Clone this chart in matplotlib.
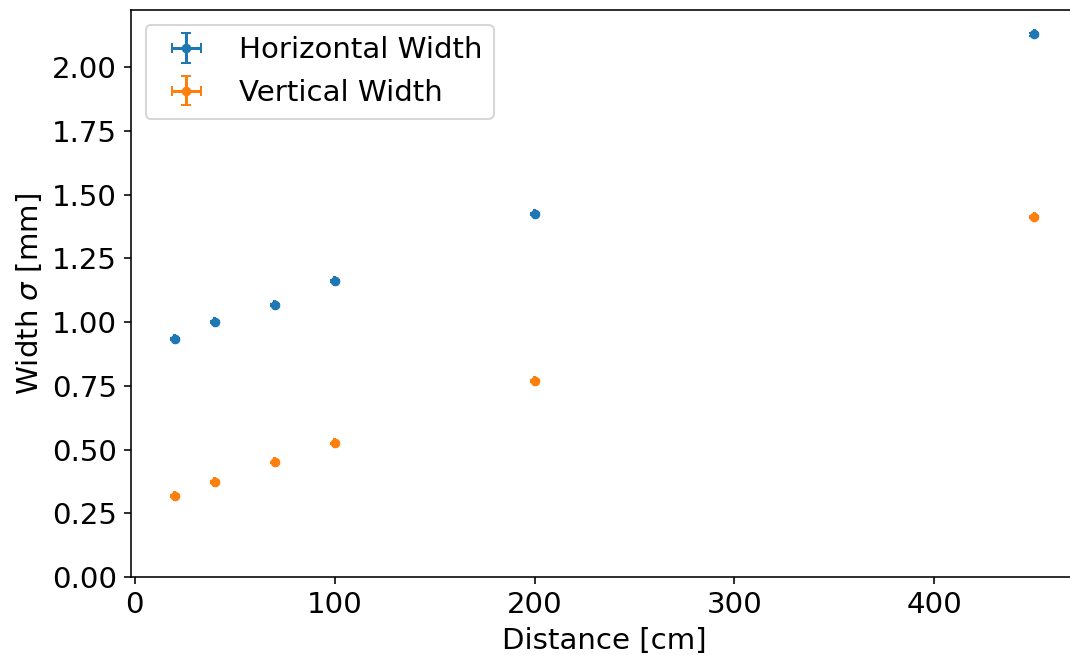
import numpy as np
import matplotlib.pyplot as plt

distance = [20, 40, 70, 100, 200, 450]
h_width = [0.935, 1.002, 1.068, 1.162, 1.425, 2.129]
v_width = [0.317, 0.372, 0.450, 0.524, 0.771, 1.413]
h_err = [0.004, 0.004, 0.004, 0.004, 0.004, 0.005]
v_err = [0.003, 0.003, 0.003, 0.003, 0.004, 0.004]
x_err = [0.3] * 6

plt.rcParams['font.size'] = 14.6

fig = plt.figure(figsize=(1070/144, 655/144), dpi=144)
ax = fig.add_subplot(111)
fig.subplots_adjust(left=131/1070, right=1078/1070, top=1-10/655, bottom=1-577/655)

ax.errorbar(distance, h_width, xerr=x_err, yerr=h_err, fmt='o', markersize=3.8,
            capsize=2.3, label='Horizontal Width')
ax.errorbar(distance, v_width, xerr=x_err, yerr=v_err, fmt='o', markersize=3.8,
            capsize=2.3, label='Vertical Width')

ax.set_ylim(bottom=0)
ax.set_xlabel('Distance [cm]')
ax.set_ylabel(r'Width $\sigma$ [mm]')
ax.legend(loc='upper left')

fig.savefig('out.png')
